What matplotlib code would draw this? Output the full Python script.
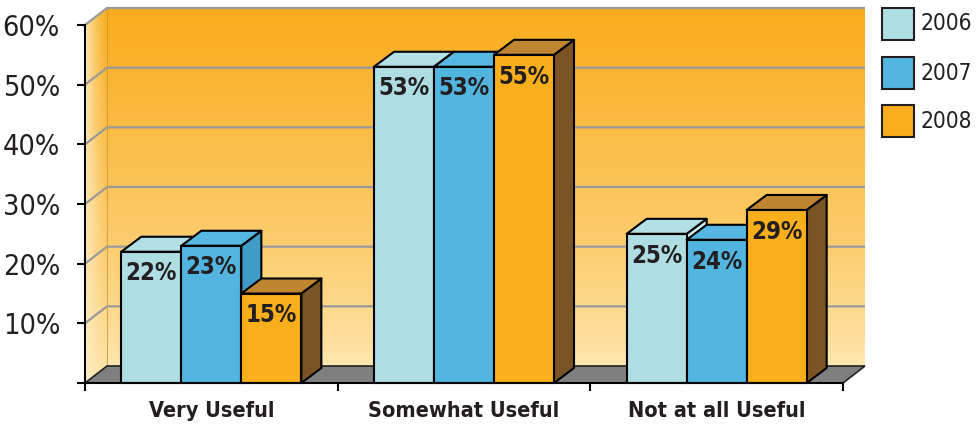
import numpy as np
import matplotlib.pyplot as plt
from matplotlib import font_manager
from matplotlib.font_manager import FontProperties
from matplotlib.patches import Polygon, Rectangle
from matplotlib.textpath import TextPath

categories = ['Very Useful', 'Somewhat Useful', 'Not at all Useful']
years = ['2006', '2007', '2008']
values_2006 = [22, 53, 25]
values_2007 = [23, 53, 24]
values_2008 = [15, 55, 29]
y_ticks = [10, 20, 30, 40, 50, 60]
y_tick_labels = ['10%', '20%', '30%', '40%', '50%', '60%']

front_colors = ['#aedde3', '#52b5e0', '#f9ae1c']
top_colors = ['#b3e0e6', '#55b7e2', '#bf8530']
side_colors = ['#c8e9ee', '#3f9cc6', '#7a5425']


# the reference uses a condensed gothic face: take the narrowest sans installed
def pick_font(bold):
    rank = {'ultra-condensed': 0, 'extra-condensed': 1, 'condensed': 2,
            'semi-condensed': 3}
    best = None
    for f in font_manager.fontManager.ttflist:
        name = f.name
        if 'Serif' in name or 'Mono' in name or f.style != 'normal':
            continue
        narrow = 'Narrow' in name or 'Condensed' in name
        if f.stretch not in rank and not narrow:
            continue
        w = f.weight if isinstance(f.weight, int) else (700 if 'bold' in str(f.weight) else 400)
        wd = abs(w - (700 if bold else 400))
        key = (rank.get(f.stretch, 2), wd)
        if best is None or key < best[0]:
            best = (key, f.fname)
    if best is None:
        return FontProperties(family='DejaVu Sans', weight='bold' if bold else 'normal')
    return FontProperties(fname=best[1])


fp_bold = pick_font(True)
fp_reg = pick_font(False)


def fit_size(text, fp, width_px, max_pt):
    w = TextPath((0, 0), text, size=10, prop=fp).get_extents().width * 100 / 72
    return min(max_pt, 10 * width_px / w)


size_val = fit_size('22%', fp_bold, 49, 22)
size_tick = fit_size('60%', fp_reg, 54, 26)
size_cat = fit_size('Very Useful', fp_bold, 124, 17)
size_leg = fit_size('2006', fp_reg, 49, 20)

W, H = 977, 425
fig = plt.figure(figsize=(W / 100, H / 100), dpi=100)
ax = fig.add_axes([0, 0, 1, 1])

# front plane: x 0..3 -> px 85..843, y 0..60 -> px 383..25
px_x = 758 / 3
px_y = 358 / 60
ax.set_xlim(-85 / px_x, (W - 85) / px_x)
ax.set_ylim(-(H - 383) / px_y, 383 / px_y)
ax.patch.set_visible(False)

ncat = len(categories)
ymax = 60
wdx, wdy = 22 / px_x, 17 / px_y   # wall depth offset
bdx, bdy = 20 / px_x, 15 / px_y   # bar depth offset

# back wall with vertical gradient
c_top = np.array([249, 172, 28]) / 255
c_bot = np.array([254, 232, 178]) / 255
t = np.linspace(0, 1, 256)[:, None, None] ** 0.75
back = c_bot + (c_top - c_bot) * t
ax.imshow(back, extent=(wdx, ncat + wdx, wdy, ymax + wdy), origin='lower',
          aspect='auto', interpolation='bicubic', zorder=0)

# left wall, lighter towards the left edge
light = np.array([254, 236, 194]) / 255
s = np.linspace(0, 1, 64)[None, :, None]
left = light + (back - light) * s ** 0.7
left_clip = Polygon([(0, 0), (wdx, wdy), (wdx, ymax + wdy), (0, ymax)],
                    closed=True, fc='none', ec='none', transform=ax.transData)
ax.add_patch(left_clip)
im = ax.imshow(left, extent=(0, wdx, 0, ymax + wdy), origin='lower',
               aspect='auto', interpolation='bicubic', zorder=0)
im.set_clip_path(left_clip)

# grid lines on the walls
for v in y_ticks:
    ax.plot([0, wdx, ncat + wdx], [v, v + wdy, v + wdy],
            color='#9a9a9a', lw=1.6, zorder=1, solid_capstyle='butt')
ax.plot([wdx, wdx], [wdy, ymax + wdy], color='#c89a40', lw=0.6, zorder=1)

# floor
ax.add_patch(Polygon([(0, 0), (ncat, 0), (ncat + wdx, wdy), (wdx, wdy)],
                     closed=True, fc='#7f7f7f', ec='#222222', lw=1.2, zorder=1))

# 3D bars
bar_w = 0.2375
series = [values_2006, values_2007, values_2008]
for j, vals in enumerate(series):
    xs = np.arange(ncat) + 0.5 + (j - 1) * bar_w
    for x, v in zip(xs, vals):
        xl, xr = x - bar_w / 2, x + bar_w / 2
        ax.add_patch(Polygon([(xr, 0), (xr + bdx, bdy), (xr + bdx, v + bdy), (xr, v)],
                             closed=True, fc=side_colors[j], ec='black', lw=1.5,
                             joinstyle='round', zorder=3 + 2 * j))
        ax.add_patch(Polygon([(xl, v), (xr, v), (xr + bdx, v + bdy), (xl + bdx, v + bdy)],
                             closed=True, fc=top_colors[j], ec='black', lw=1.5,
                             joinstyle='round', zorder=3 + 2 * j))
    ax.bar(xs, vals, bar_w, color=front_colors[j], edgecolor='black', lw=1.5,
           zorder=4 + 2 * j)
    for x, v in zip(xs, vals):
        ax.annotate(f'{v}%', (x, v), xytext=(0, -7), textcoords='offset points',
                    ha='center', va='top', fontproperties=fp_bold, fontsize=size_val,
                    color='#231f20', zorder=20)

# axes
for side in ['top', 'right']:
    ax.spines[side].set_visible(False)
ax.spines['left'].set_position(('data', 0))
ax.spines['left'].set_bounds(0, ymax)
ax.spines['bottom'].set_position(('data', 0))
ax.spines['bottom'].set_bounds(0, ncat)
for side in ['left', 'bottom']:
    ax.spines[side].set_linewidth(1.5)
    ax.spines[side].set_zorder(15)

ax.set_yticks([0] + y_ticks, [''] + y_tick_labels)
ax.tick_params(axis='y', direction='out', length=6, width=1.5, pad=12,
               labelcolor='#231f20')
for lbl in ax.get_yticklabels():
    lbl.set_fontproperties(fp_reg)
    lbl.set_fontsize(size_tick)
ax.set_xticks(np.arange(ncat + 1), [''] * (ncat + 1))
ax.set_xticks(np.arange(ncat) + 0.5, categories, minor=True)
ax.tick_params(axis='x', which='major', direction='out', length=6, width=1.5)
ax.tick_params(axis='x', which='minor', length=0, pad=13, labelcolor='#231f20')
for lbl in ax.get_xticklabels(minor=True):
    lbl.set_fontproperties(fp_bold)
    lbl.set_fontsize(size_cat)

# legend
box_top = [8, 57, 105]
for j, year in enumerate(years):
    y0 = box_top[j]
    fig.add_artist(Rectangle((882 / W, 1 - (y0 + 32) / H), 32 / W, 32 / H,
                             transform=fig.transFigure, fc=front_colors[j],
                             ec='#231f20', lw=1.5))
    fig.text(920 / W, 1 - (y0 + 16) / H, year, fontproperties=fp_reg,
             fontsize=size_leg, va='center', ha='left', color='#231f20')

fig.savefig('out.png', dpi=100)
